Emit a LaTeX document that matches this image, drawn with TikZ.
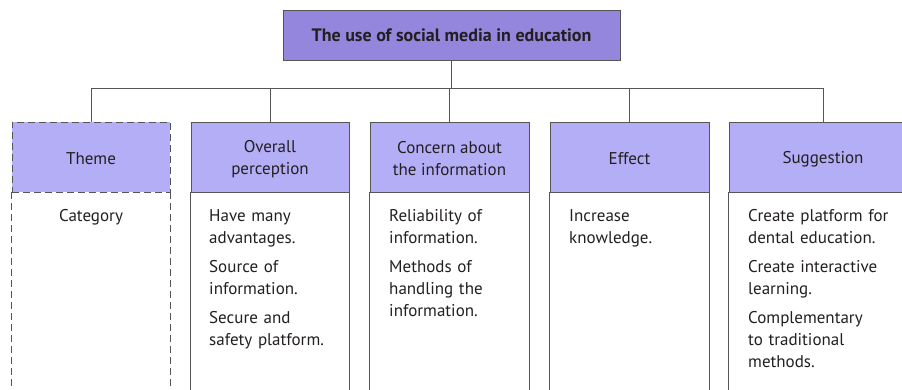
\documentclass[tikz,border=0pt]{standalone}
\usepackage{fontspec}
\setmainfont{PT Sans}
\definecolor{titlefill}{HTML}{9386DC}
\definecolor{headfill}{HTML}{B4AEF7}
\definecolor{linegray}{HTML}{555555}
\definecolor{txt}{HTML}{231F20}
\begin{document}
\begin{tikzpicture}[x=1pt,y=-1pt,
  every node/.style={text=txt, font=\fontsize{17}{22}\selectfont},
  box/.style={draw=linegray, line width=0.9pt},
  dashbox/.style={draw=linegray, line width=0.9pt, dash pattern=on 7pt off 4pt},
  conn/.style={draw=linegray, line width=0.9pt},
  head/.style={fill=headfill, minimum height=70pt, inner sep=0pt},
  headtext/.style={align=center, yshift=-2pt},
  bodytext/.style={anchor=north west, align=left, inner sep=0pt, text width=160pt}
]
\useasboundingbox (0,0) rectangle (902,389);
\clip (0,0) rectangle (902,389);
% title
\node[box, fill=titlefill, minimum width=337pt, minimum height=50pt, inner sep=0pt,
  font=\fontsize{18}{22}\selectfont\bfseries] (title) at (451.5,35) {The use of social media in education};
% headers
\node[dashbox, head, minimum width=158pt, label={[headtext]center:Theme}] (h1) at (91,157) {};
\node[box, head, minimum width=158pt, label={[headtext]center:{Overall\\perception}}] (h2) at (270,157) {};
\node[box, head, minimum width=159pt, label={[headtext]center:{Concern about\\the information}}] (h3) at (449.5,157) {};
\node[box, head, minimum width=159pt, label={[headtext]center:Effect}] (h4) at (629.5,157) {};
\node[box, head, minimum width=188pt, label={[headtext]center:Suggestion}] (h5) at (823,157) {};
% bodies
\draw[dashbox] (h1.south west) -- ++(0,210);
\draw[dashbox] (h1.south east) -- ++(0,210);
\foreach \h in {h2,h3,h4,h5}{
  \draw[box] (\h.south west) -- ++(0,210);
  \draw[box] (\h.south east) -- ++(0,210);
}
% body texts
\node[anchor=north, inner sep=0pt] (c1) at (91,209) {Category};
\node[bodytext] (c2) at (209,209) {Have many\\advantages.\\[7pt]Source of\\information.\\[7pt]Secure and\\safety platform.};
\node[bodytext] (c3) at (389,209) {Reliability of\\information.\\[7pt]Methods of\\handling the\\information.};
\node[bodytext] (c4) at (569,209) {Increase\\knowledge.};
\node[bodytext] (c5) at (748,209) {Create platform for\\dental education.\\[7pt]Create interactive\\learning.\\[7pt]Complementary\\to traditional\\methods.};
% connectors
\coordinate (j) at (title.south |- 0,88);
\draw[conn] (title.south) -- (j);
\draw[conn] (h1.north) -- (h1.north |- j) -- (h5.north |- j) -- (h5.north);
\draw[conn] (h2.north) -- (h2.north |- j);
\draw[conn] (h3.north) -- (h3.north |- j);
\draw[conn] (h4.north) -- (h4.north |- j);
\end{tikzpicture}
\end{document}
